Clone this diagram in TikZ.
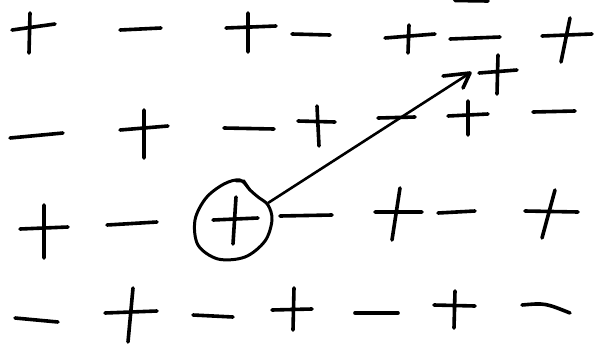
\documentclass[tikz,border=0pt]{standalone}
\usepackage{tikz}
\usetikzlibrary{calc}

\begin{document}
\begin{tikzpicture}[x=1pt,y=-1pt,
    pen/.style={line width=3.6pt,line cap=round,line join=round}]
  \useasboundingbox (0,0) rectangle (595,346);
  % Row 1
  \draw[pen] (12,30)--(55,24) (30,13)--(29,53);
  \draw[pen] (120,30)--(161,28);
  \draw[pen] (226,28)--(276,26) (248,13)--(248,52);
  \draw[pen] (292,34)--(330,35);
  \draw[pen] (385,38)--(435,34) (409,25)--(408,53);
  \draw[pen] (450,39)--(500,37);
  \draw[pen] (542,36)--(592,34) (570,18)--(561,62);
  \draw[pen] (455,0.5)--(488,1);
  % Row 2
  \draw[pen] (10,138)--(63,133);
  \draw[pen] (120,130)--(168,126) (144,110)--(144,158);
  \draw[pen] (224,128)--(274,129);
  \draw[pen] (298,121)--(335,122) (317,106)--(319,146);
  \draw[pen] (378,118)--(415,117);
  \draw[pen] (448,116)--(488,114) (468,101)--(468,135);
  \draw[pen] (533,112)--(575,111);
  % extra charge at the arrow tip
  \draw[pen] (479,73)--(517,70) (498,55)--(497,94);
  % Row 3
  \draw[pen] (20,229)--(68,227) (44,205)--(44,258);
  \draw[pen] (107,225)--(157,222);
  \draw[pen] (213,220)--(258,218) (236,197)--(233,244);
  \draw[pen] (280,216)--(332,215);
  \draw[pen] (375,212)--(422,212) (400,188)--(392,240);
  \draw[pen] (438,213)--(475,211);
  \draw[pen] (525,211)--(578,212) (555,190)--(542,238);
  % Row 4
  \draw[pen] (15,318)--(58,322);
  \draw[pen] (105,313)--(157,311) (133,288)--(128,342);
  \draw[pen] (193,315)--(233,317);
  \draw[pen] (272,310)--(312,309) (294,288)--(293,330);
  \draw[pen] (355,313)--(398,313);
  \draw[pen] (434,305)--(475,306) (455,291)--(454,328);
  \draw[pen] (522,305) .. controls (545,303) .. (570,313);
  % Ring round the chosen charge
  \draw[line width=3pt] plot[smooth cycle,tension=0.55] coordinates
    {(240,180) (224,184) (206,198) (195,220) (198,245) (218,259)
     (245,257) (265,241) (272,220) (268,205) (258,197) (250,190)};
  \draw[line width=2.6pt,line cap=round] (236,181)--(244,181)--(250,190);
  % Arrow
  \coordinate (from) at (268,203);
  \coordinate (tip) at (470,73);
  \draw[line width=2.6pt] (from) -- (tip);
  \draw[pen] ($(tip)+(-27,3)$) -- (tip) -- ($(tip)+(-7,15)$);
\end{tikzpicture}
\end{document}
